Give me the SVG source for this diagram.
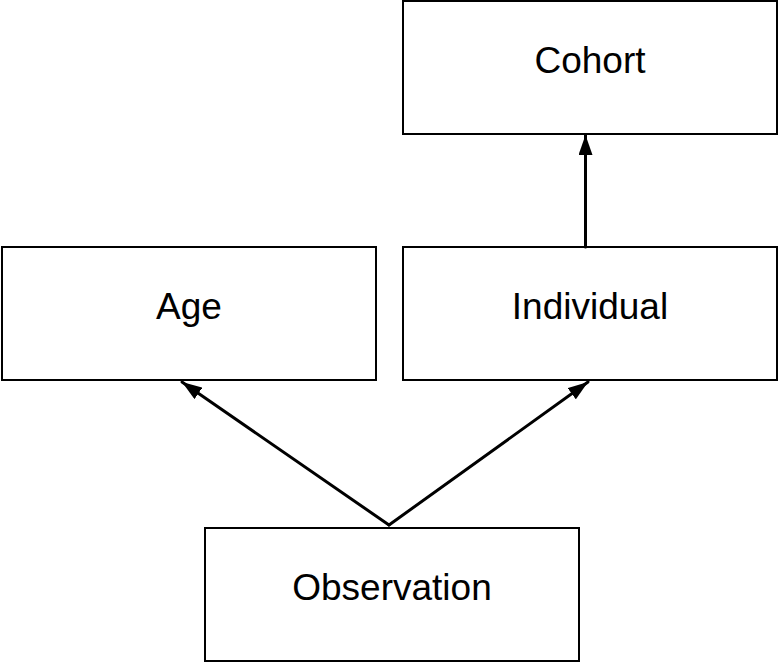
<svg xmlns="http://www.w3.org/2000/svg" width="779" height="664" viewBox="0 0 779 664">
<style>
.box{fill:#fff;stroke:#000;stroke-width:2}
.lbl{font-family:"Liberation Sans",Arial,sans-serif;font-size:37px;fill:#000;text-anchor:middle}
.edge{fill:none;stroke:#000;stroke-width:3;stroke-linecap:round}
</style>
<defs>
<marker id="ah" viewBox="0 0 20 14" refX="20" refY="7" markerWidth="20" markerHeight="14" orient="auto" markerUnits="userSpaceOnUse">
<path d="M0,0 L20,7 L0,14 z" fill="#000"/>
</marker>
</defs>
<rect width="779" height="664" fill="#fff"/>
<g id="cohort"><rect class="box" x="403" y="1" width="374" height="133"/><text class="lbl" x="590" y="73">Cohort</text></g>
<g id="age"><rect class="box" x="2" y="247" width="374" height="133"/><text class="lbl" x="189" y="319">Age</text></g>
<g id="individual"><rect class="box" x="403" y="247" width="374" height="133"/><text class="lbl" x="590" y="319">Individual</text></g>
<g id="observation"><rect class="box" x="205" y="528" width="374" height="133"/><text class="lbl" x="392" y="600">Observation</text></g>
<g id="connectors">
<line class="edge" x1="585.5" y1="247" x2="585.5" y2="135" marker-end="url(#ah)"/>
<line class="edge" x1="389" y1="525" x2="182" y2="382" marker-end="url(#ah)"/>
<line class="edge" x1="389" y1="525" x2="588" y2="382" marker-end="url(#ah)"/>
</g>
</svg>
